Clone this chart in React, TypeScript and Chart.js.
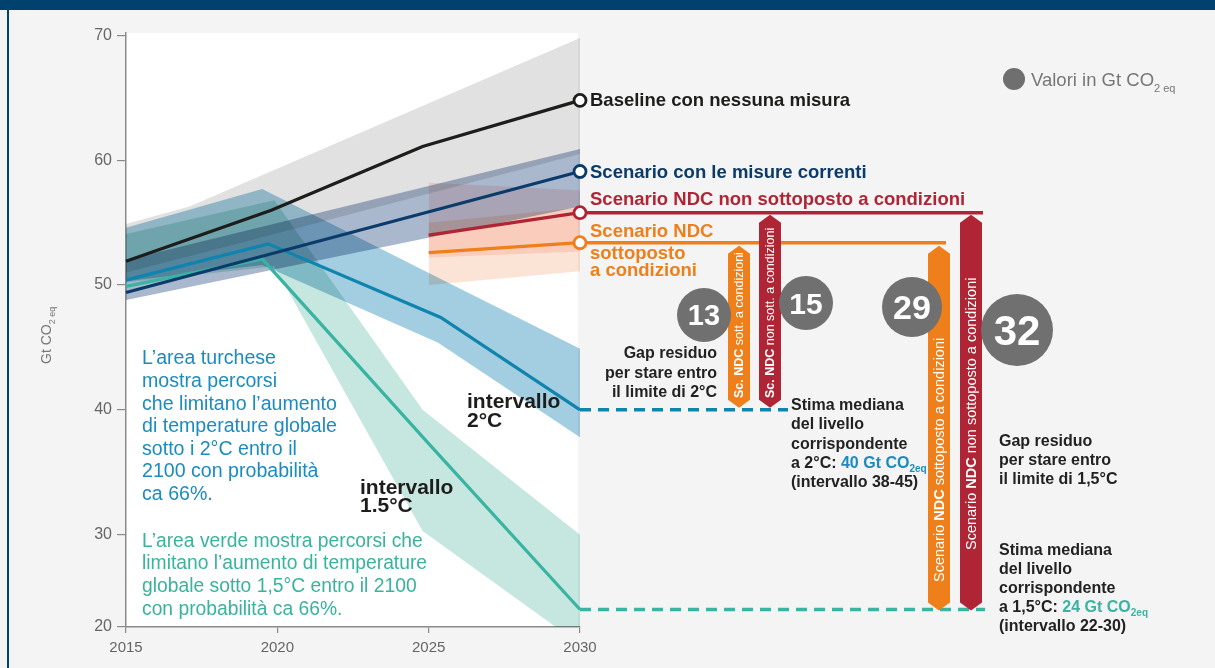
import { useEffect, useRef } from "react";
import { Chart, registerables } from "chart.js";

// Bands in the original are overprinted (multiply); this plugin is registered
// before the Filler so the blend mode is active while the fills are painted.
const bandBlend = {
  id: "bandBlend",
  beforeDatasetDraw(chart: any, args: any) {
    const ds: any = chart.data.datasets[args.index];
    if (ds && ds.isBand) {
      chart.ctx.save();
      chart.ctx.globalCompositeOperation = "multiply";
    }
  },
  afterDatasetDraw(chart: any, args: any) {
    const ds: any = chart.data.datasets[args.index];
    if (ds && ds.isBand) chart.ctx.restore();
  },
};
Chart.register(bandBlend as any);
Chart.register(...registerables);

const FONT = "'Liberation Sans', Arial, Helvetica, sans-serif";

// ---------- axes ----------
const xTickYears = [2015, 2020, 2025, 2030];
const yTickValues = [30, 40, 50, 60, 70];
const yAxisMin = 22.6; // the original compresses the bottom: this floor is labelled "20"
const yAxisMax = 70.2;
const yAxisMinLabel = "20";

// ---------- series (Gt CO2eq) ----------
const baselineYears = [2015, 2019.8, 2024.8, 2030];
const baselineValues = [51.9, 56.0, 61.1, 64.8];
const baselineRangeYears = [2015, 2017.1, 2030];
const baselineRangeHigh = [54.9, 56.3, 69.8];
const baselineRangeLow = [51.0, 52.3, 60.5];

const currentYears = [2015, 2030];
const currentValues = [49.4, 59.1];
const currentHigh = [52.0, 60.9];
const currentLow = [48.8, 56.3];

const ndcYears = [2025, 2030];
const ndcUncondValues = [54.0, 55.8];
const ndcUncondHigh = [58.2, 57.6];
const ndcUncondLow = [52.2, 52.7];
const ndcCondValues = [52.6, 53.4];
const ndcCondHigh = [55.0, 56.2];
const ndcCondLow = [50.0, 51.1];

const twoDegYears = [2015, 2019.7, 2025.4, 2030];
const twoDegValues = [50.4, 53.3, 47.4, 40.0];
const twoDegRangeYears = [2015, 2019.5, 2025.3, 2030];
const twoDegHigh = [54.6, 57.7, 50.6, 44.9];
const twoDegLow = [50.3, 51.6, 45.4, 37.8];

const onePtFiveYears = [2015, 2019.5, 2025, 2030];
const onePtFiveValues = [49.9, 52.1, 37.3, 24.0];
const onePtFiveRangeYears = [2015, 2019.9, 2024.8, 2030];
const onePtFiveHigh = [54.1, 56.8, 40.0, 30.0];
const onePtFiveLow = [50.2, 51.5, 30.3, 21.2];

const gapLabels = ["13", "15", "29", "32"];

// ---------- texts ----------
const blueNote = [
  "L\u2019area turchese",
  "mostra percorsi",
  "che limitano l\u2019aumento",
  "di temperature globale",
  "sotto i 2\u00b0C entro il",
  "2100 con probabilit\u00e0",
  "ca 66%.",
];
const greenNote = [
  "L\u2019area verde mostra percorsi che",
  "limitano l\u2019aumento di temperature",
  "globale sotto 1,5\u00b0C entro il 2100",
  "con probabilit\u00e0 ca 66%.",
];
const gap2Lines = ["Gap residuo", "per stare entro", "il limite di 2\u00b0C"];
const gap15Lines = ["Gap residuo", "per stare entro", "il limite di 1,5\u00b0C"];
const est2Lines = ["Stima mediana", "del livello", "corrispondente"];
const est15Lines = ["Stima mediana", "del livello", "corrispondente"];

const COL = {
  bg: "#f4f4f4",
  bar: "#00416e",
  black: "#1d1d1b",
  navy: "#0b3b6b",
  blue: "#0e84ae",
  blueText: "#1a8cbf",
  green: "#3ab4a2",
  greenText: "#38b39e",
  red: "#b02536",
  orange: "#ee7f1a",
  grey: "#666666",
  axis: "#8a8a8a",
};

type Run = { t: string; size: number; bold?: boolean; color: string; dy?: number };

const fontOf = (r: Run) => `${r.bold ? "bold " : ""}${r.size}px ${FONT}`;

function drawRuns(ctx: CanvasRenderingContext2D, x: number, y: number, runs: Run[], align: "left" | "right" | "center" = "left") {
  let total = 0;
  for (const r of runs) {
    ctx.font = fontOf(r);
    total += ctx.measureText(r.t).width;
  }
  let cx = align === "right" ? x - total : align === "center" ? x - total / 2 : x;
  ctx.textAlign = "left";
  for (const r of runs) {
    ctx.font = fontOf(r);
    ctx.fillStyle = r.color;
    ctx.fillText(r.t, cx, y + (r.dy || 0));
    cx += ctx.measureText(r.t).width;
  }
}

function drawArrow(ctx: CanvasRenderingContext2D, cx: number, top: number, bottom: number, w: number, color: string) {
  const h = 8;
  ctx.beginPath();
  ctx.moveTo(cx, top);
  ctx.lineTo(cx + w / 2, top + h);
  ctx.lineTo(cx + w / 2, bottom - h);
  ctx.lineTo(cx, bottom);
  ctx.lineTo(cx - w / 2, bottom - h);
  ctx.lineTo(cx - w / 2, top + h);
  ctx.closePath();
  ctx.fillStyle = color;
  ctx.fill();
}

function drawVertical(ctx: CanvasRenderingContext2D, cx: number, startY: number, runs: Run[]) {
  ctx.save();
  ctx.translate(cx, startY);
  ctx.rotate(-Math.PI / 2);
  ctx.textBaseline = "middle";
  drawRuns(ctx, 0, 1, runs, "left");
  ctx.restore();
}

function drawGapCircle(ctx: CanvasRenderingContext2D, x: number, y: number, r: number, label: string, size: number) {
  ctx.beginPath();
  ctx.arc(x, y, r, 0, Math.PI * 2);
  ctx.fillStyle = "#707070";
  ctx.fill();
  ctx.fillStyle = "#ffffff";
  ctx.font = `bold ${size}px ${FONT}`;
  ctx.textAlign = "center";
  ctx.textBaseline = "alphabetic";
  ctx.fillText(label, x, y + size * 0.36);
}

const pts = (xs: number[], ys: number[]) => xs.map((x, i) => ({ x, y: ys[i] }));

function bandPair(name: string, xs: number[], hi: number[], lo: number[], color: string, order: number) {
  return [
    { label: name, isBand: true, data: pts(xs, hi), fill: "+1", backgroundColor: color, borderColor: "transparent", borderWidth: 0, pointRadius: 0, order },
    { label: name + " low", data: pts(xs, lo), fill: false, backgroundColor: "transparent", borderColor: "transparent", borderWidth: 0, pointRadius: 0, order },
  ];
}

function lineDs(name: string, xs: number[], ys: number[], color: string, endMarker: boolean, order: number) {
  return {
    label: name,
    data: pts(xs, ys),
    borderColor: color,
    backgroundColor: color,
    borderWidth: 3.2,
    fill: false,
    order,
    clip: false,
    pointRadius: (c: any) => (endMarker && c.dataIndex === ys.length - 1 ? 6 : 0),
    pointBackgroundColor: "#ffffff",
    pointBorderColor: color,
    pointBorderWidth: 2.8,
  };
}

const decor = {
  id: "decor",
  beforeDraw(chart: any) {
    const { ctx, chartArea: a } = chart;
    ctx.save();
    ctx.fillStyle = COL.bg;
    ctx.fillRect(0, 0, chart.width, chart.height);
    ctx.fillStyle = "#ffffff";
    ctx.fillRect(a.left, a.top, a.right - a.left - 2, a.bottom - a.top);
    ctx.fillStyle = COL.bar;
    ctx.fillRect(0, 0, chart.width, 10);
    ctx.fillRect(7, 0, 2, chart.height);
    ctx.restore();
  },
  beforeDatasetsDraw(chart: any) {
    const { ctx } = chart;
    const xs = chart.scales.x;
    const ys = chart.scales.y;
    const x30 = xs.getPixelForValue(2030);
    ctx.save();
    ctx.lineWidth = 3.5;
    ctx.strokeStyle = COL.red;
    ctx.beginPath();
    ctx.moveTo(x30, ys.getPixelForValue(ndcUncondValues[1]));
    ctx.lineTo(983, ys.getPixelForValue(ndcUncondValues[1]));
    ctx.stroke();
    ctx.strokeStyle = COL.orange;
    ctx.beginPath();
    ctx.moveTo(x30, ys.getPixelForValue(ndcCondValues[1]));
    ctx.lineTo(946, ys.getPixelForValue(ndcCondValues[1]));
    ctx.stroke();
    ctx.setLineDash([11, 7]);
    ctx.lineWidth = 3.5;
    ctx.strokeStyle = COL.blue;
    ctx.beginPath();
    const y40 = ys.getPixelForValue(twoDegValues[3]);
    ctx.moveTo(x30, y40);
    ctx.lineTo(788, y40);
    ctx.stroke();
    ctx.strokeStyle = COL.green;
    ctx.beginPath();
    const y24 = ys.getPixelForValue(onePtFiveValues[3]);
    ctx.moveTo(x30, y24);
    ctx.lineTo(985, y24);
    ctx.stroke();
    ctx.restore();
  },
  afterDatasetsDraw(chart: any) {
    const { ctx } = chart;
    const ys = chart.scales.y;
    const yU = ys.getPixelForValue(ndcUncondValues[1]);
    const yC = ys.getPixelForValue(ndcCondValues[1]);
    const y40 = ys.getPixelForValue(twoDegValues[3]);
    const y24 = ys.getPixelForValue(onePtFiveValues[3]);
    ctx.save();
    ctx.textBaseline = "alphabetic";

    // arrows
    drawArrow(ctx, 739, yC + 3, y40 - 2, 22, COL.orange);
    drawArrow(ctx, 770, yU + 2, y40 - 2, 22, COL.red);
    drawArrow(ctx, 939, yC + 3, y24 + 1, 22, COL.orange);
    drawArrow(ctx, 971, yU + 2, y24 + 1, 22, COL.red);
    drawVertical(ctx, 739, 398, [
      { t: "Sc. NDC", size: 12.5, bold: true, color: "#fff" },
      { t: " sott. a condizioni", size: 12.5, color: "#fff" },
    ]);
    drawVertical(ctx, 770, 398, [
      { t: "Sc. NDC", size: 12.5, bold: true, color: "#fff" },
      { t: " non sott. a condizioni", size: 12.5, color: "#fff" },
    ]);
    drawVertical(ctx, 939, 582, [
      { t: "Scenario ", size: 14.5, color: "#fff" },
      { t: "NDC", size: 14.5, bold: true, color: "#fff" },
      { t: " sottoposto a condizioni", size: 14.5, color: "#fff" },
    ]);
    drawVertical(ctx, 971, 550, [
      { t: "Scenario ", size: 14.5, color: "#fff" },
      { t: "NDC", size: 14.5, bold: true, color: "#fff" },
      { t: " non sottoposto a condizioni", size: 14.5, color: "#fff" },
    ]);
    ctx.textBaseline = "alphabetic";

    // gap circles
    drawGapCircle(ctx, 704, 315, 27, gapLabels[0], 29);
    drawGapCircle(ctx, 806, 303, 27, gapLabels[1], 30);
    drawGapCircle(ctx, 912, 307, 30, gapLabels[2], 34);
    drawGapCircle(ctx, 1017, 330, 36, gapLabels[3], 42);

    // series labels
    const yB = ys.getPixelForValue(baselineValues[3]);
    const yCur = ys.getPixelForValue(currentValues[1]);
    drawRuns(ctx, 590, yB + 6, [{ t: "Baseline con nessuna misura", size: 18.5, bold: true, color: COL.black }]);
    drawRuns(ctx, 590, yCur + 6, [{ t: "Scenario con le misure correnti", size: 18.5, bold: true, color: COL.navy }]);
    drawRuns(ctx, 590, yU - 8, [{ t: "Scenario NDC non sottoposto a condizioni", size: 18.5, bold: true, color: COL.red }]);
    drawRuns(ctx, 590, yC - 6, [{ t: "Scenario NDC", size: 18.5, bold: true, color: COL.orange }]);
    drawRuns(ctx, 590, yC + 16, [{ t: "sottoposto", size: 18.5, bold: true, color: COL.orange }]);
    drawRuns(ctx, 590, yC + 33, [{ t: "a condizioni", size: 18.5, bold: true, color: COL.orange }]);

    // gap / estimate texts
    gap2Lines.forEach((l, i) => drawRuns(ctx, 717, 358 + i * 19.5, [{ t: l, size: 16, bold: true, color: "#222" }], "right"));
    est2Lines.forEach((l, i) => drawRuns(ctx, 791, 410 + i * 19.3, [{ t: l, size: 16, bold: true, color: "#222" }]));
    drawRuns(ctx, 791, 410 + 3 * 19.3, [
      { t: "a 2\u00b0C: ", size: 16, bold: true, color: "#222" },
      { t: "40 Gt CO", size: 16, bold: true, color: COL.blueText },
      { t: "2eq", size: 10, bold: true, color: COL.blueText, dy: 4 },
    ]);
    drawRuns(ctx, 791, 410 + 4 * 19.3, [{ t: "(intervallo 38-45)", size: 16, bold: true, color: "#222" }]);

    gap15Lines.forEach((l, i) => drawRuns(ctx, 999, 446 + i * 18.8, [{ t: l, size: 16, bold: true, color: "#222" }]));
    est15Lines.forEach((l, i) => drawRuns(ctx, 999, 555 + i * 19, [{ t: l, size: 16, bold: true, color: "#222" }]));
    drawRuns(ctx, 999, 555 + 3 * 19, [
      { t: "a 1,5\u00b0C: ", size: 16, bold: true, color: "#222" },
      { t: "24 Gt CO", size: 16, bold: true, color: COL.green },
      { t: "2eq", size: 10, bold: true, color: COL.green, dy: 4 },
    ]);
    drawRuns(ctx, 999, 555 + 4 * 19, [{ t: "(intervallo 22-30)", size: 16, bold: true, color: "#222" }]);

    // in-plot notes
    blueNote.forEach((l, i) => drawRuns(ctx, 142, 364.4 + i * 22.6, [{ t: l, size: 19.6, color: COL.blueText }]));
    greenNote.forEach((l, i) => drawRuns(ctx, 142, 546.6 + i * 22.8, [{ t: l, size: 19.3, color: COL.greenText }]));
    drawRuns(ctx, 467, 408, [{ t: "intervallo", size: 21, bold: true, color: COL.black }]);
    drawRuns(ctx, 467, 427, [{ t: "2\u00b0C", size: 21, bold: true, color: COL.black }]);
    drawRuns(ctx, 360, 494, [{ t: "intervallo", size: 21, bold: true, color: COL.black }]);
    drawRuns(ctx, 360, 512, [{ t: "1.5\u00b0C", size: 21, bold: true, color: COL.black }]);

    // legend
    ctx.beginPath();
    ctx.arc(1014, 79, 11, 0, Math.PI * 2);
    ctx.fillStyle = "#6f6f6f";
    ctx.fill();
    drawRuns(ctx, 1031, 86, [
      { t: "Valori in Gt CO", size: 18.5, color: "#777" },
      { t: "2 eq", size: 11, color: "#777", dy: 6 },
    ]);

    // y-axis title
    ctx.save();
    ctx.translate(51, 364);
    ctx.rotate(-Math.PI / 2);
    drawRuns(ctx, 0, 0, [
      { t: "Gt CO", size: 14, color: "#777" },
      { t: "2 eq", size: 9, color: "#777", dy: 4 },
    ]);
    ctx.restore();

    ctx.restore();
  },
};

export default function App() {
  const ref = useRef<HTMLCanvasElement | null>(null);

  useEffect(() => {
    if (!ref.current) return;
    const datasets: any[] = [
      lineDs("Scenario NDC non sottoposto a condizioni", ndcYears, ndcUncondValues, COL.red, true, 0),
      lineDs("Scenario NDC sottoposto a condizioni", ndcYears, ndcCondValues, COL.orange, true, 0),
      lineDs("Baseline con nessuna misura", baselineYears, baselineValues, COL.black, true, 1),
      lineDs("Scenario con le misure correnti", currentYears, currentValues, COL.navy, true, 2),
      lineDs("Percorso 2\u00b0C", twoDegYears, twoDegValues, COL.blue, false, 3),
      lineDs("Percorso 1,5\u00b0C", onePtFiveYears, onePtFiveValues, COL.green, false, 4),
      ...bandPair("NDC cond. range", ndcYears, ndcCondHigh, ndcCondLow, "#fbe4d5", 50),
      ...bandPair("NDC uncond. range", ndcYears, ndcUncondHigh, ndcUncondLow, "#fde4e1", 60),
      ...bandPair("Current policy range", currentYears, currentHigh, currentLow, "#a9b8cd", 70),
      ...bandPair("1.5C range", onePtFiveRangeYears, onePtFiveHigh, onePtFiveLow, "#c6e7e0", 80),
      ...bandPair("2C range", twoDegRangeYears, twoDegHigh, twoDegLow, "#a3cde0", 90),
      ...bandPair("Baseline range", baselineRangeYears, baselineRangeHigh, baselineRangeLow, "#e1e1e1", 100),
    ];

    const chart = new Chart(ref.current, {
      type: "line",
      data: { datasets },
      options: {
        responsive: false,
        maintainAspectRatio: false,
        animation: false,
        events: [],
        layout: { padding: { left: 0, right: 635, top: 33, bottom: 0 } },
        elements: { line: { tension: 0, borderJoinStyle: "miter" } },
        plugins: { legend: { display: false }, tooltip: { enabled: false } },
        scales: {
          x: {
            type: "linear",
            min: 2015,
            max: 2030,
            afterBuildTicks: (s: any) => {
              s.ticks = xTickYears.map((v) => ({ value: v }));
            },
            afterFit: (s: any) => {
              s.height = 41;
            },
            ticks: {
              callback: (v: any) => String(v),
              font: { family: FONT, size: 15 },
              color: COL.grey,
              padding: 6,
              maxRotation: 0,
              autoSkip: false,
            },
            grid: { drawOnChartArea: false, drawTicks: true, tickLength: 6, color: COL.axis, lineWidth: 1.2 },
            border: { display: true, color: COL.axis, width: 1.5 },
          },
          y: {
            type: "linear",
            min: yAxisMin,
            max: yAxisMax,
            afterBuildTicks: (s: any) => {
              s.ticks = [yAxisMin, ...yTickValues].map((v) => ({ value: v }));
            },
            afterFit: (s: any) => {
              s.width = 126;
            },
            ticks: {
              callback: (v: any) => (v === yAxisMin ? yAxisMinLabel : String(v)),
              font: { family: FONT, size: 16 },
              color: COL.grey,
              padding: 5,
              autoSkip: false,
            },
            grid: { drawOnChartArea: false, drawTicks: true, tickLength: 9, color: COL.axis, lineWidth: 1.2 },
            border: { display: true, color: COL.axis, width: 1.5 },
          },
        },
      } as any,
      plugins: [decor],
    });
    return () => chart.destroy();
  }, []);

  return (
    <div style={{ position: "fixed", left: 0, top: 0, width: 1215, height: 668, background: COL.bg }}>
      <canvas ref={ref} width={1215} height={668} style={{ width: 1215, height: 668, display: "block" }} />
    </div>
  );
}
